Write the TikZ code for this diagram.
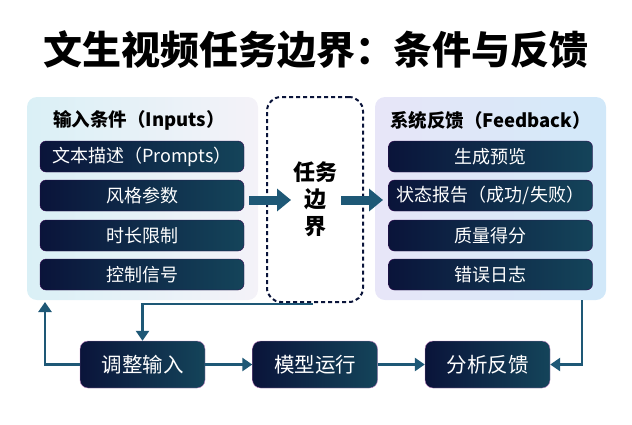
\documentclass[tikz,border=0pt]{standalone}
\usepackage{fontspec}
\setmainfont{Noto Sans CJK SC}
\usetikzlibrary{positioning,arrows.meta}
\definecolor{navy}{RGB}{10,20,58}
\definecolor{deepteal}{RGB}{20,68,90}
\definecolor{flow}{RGB}{30,88,118}
\definecolor{inpanel}{RGB}{218,240,246}
\definecolor{fbpanel}{RGB}{232,230,248}
\tikzset{%
    panel/.style={rounded corners=10pt, minimum width=231pt, minimum height=203pt},
    item/.style={rounded corners=6pt, left color=navy, right color=deepteal, draw=navy!60!violet,
        minimum width=204pt, minimum height=31pt, text=white, font=\fontsize{18}{18}\selectfont},
    loopbox/.style={rounded corners=8pt, left color=navy, right color=deepteal, draw=violet!50,
        minimum width=125pt, minimum height=47pt, text=white, font=\fontsize{20.5}{20.5}\selectfont},
    fat/.style={-{Triangle[length=14pt,width=22pt]}, line width=9pt, draw=flow},
    link/.style={-{Triangle[length=10pt,width=13pt]}, line width=2.5pt, draw=flow}
}

\begin{document}
\begin{tikzpicture}[x=1pt,y=-1pt]
    \useasboundingbox (0,0) rectangle (632,424);
    \node[font=\fontsize{39}{39}\selectfont\bfseries] (title) at (316,50) {文生视频任务边界：条件与反馈};
	% panels
	\node[panel, left color=inpanel, right color=inpanel!80!violet!20] (inputs) at (142.5,198.5) {};
	\node[panel, left color=fbpanel, right color=fbpanel!90!cyan] (feedback) at (490.5,198.5) {};
	\node[draw=navy, dashed, line width=2pt, dash pattern=on 4pt off 3pt, rounded corners=14pt,
	    minimum width=96pt, minimum height=205pt] (bound) at (315,199.5) {};
	\node[font=\fontsize{22}{27}\selectfont\bfseries, align=center] at (bound) {任务\\边\\界};
	\node[font=\fontsize{18.5}{18.5}\selectfont\bfseries] at (139,120) {输入条件（Inputs）};
	\node[font=\fontsize{18.5}{18.5}\selectfont\bfseries] at (490.5,120) {系统反馈（Feedback）};
	% items
	\node[item] (prompts) at (142,156.5) {文本描述（Prompts）};
	\node[item] (style) at (142,195.5) {风格参数};
	\node[item] (length) at (142,235.5) {时长限制};
	\node[item] (control) at (142,274.5) {控制信号};
	\node[item] (preview) at (490.5,156.5) {生成预览};
	\node[item] (status) at (490.5,195.5) {状态报告（成功/失败）};
	\node[item] (score) at (490.5,235.5) {质量得分};
	\node[item] (log) at (490.5,274.5) {错误日志};
	% loop
	\node[loopbox] (adjust) at (142.5,364.5) {调整输入};
	\node[loopbox] (run) at (315,364.5) {模型运行};
	\node[loopbox] (analyze) at (487.5,364.5) {分析反馈};
	\coordinate (a1) at (249,200);
	\coordinate (a2) at (291,200);
	\coordinate (a3) at (341,200);
	\coordinate (a4) at (383,200);
	\coordinate (fbout) at (582,300);
	\coordinate (inin) at (45,302);
	\coordinate (turn) at (313,304);
	\draw[fat] (a1) -- (a2);
	\draw[fat] (a3) -- (a4);
	\draw[link] (adjust) -- (run);
	\draw[link] (run) -- (analyze);
	\draw[link] (fbout) |- (analyze.east);
	\draw[link] (adjust.west) -| (inin);
	\draw[link] (turn) -| (adjust.north);
\end{tikzpicture}
\end{document}
